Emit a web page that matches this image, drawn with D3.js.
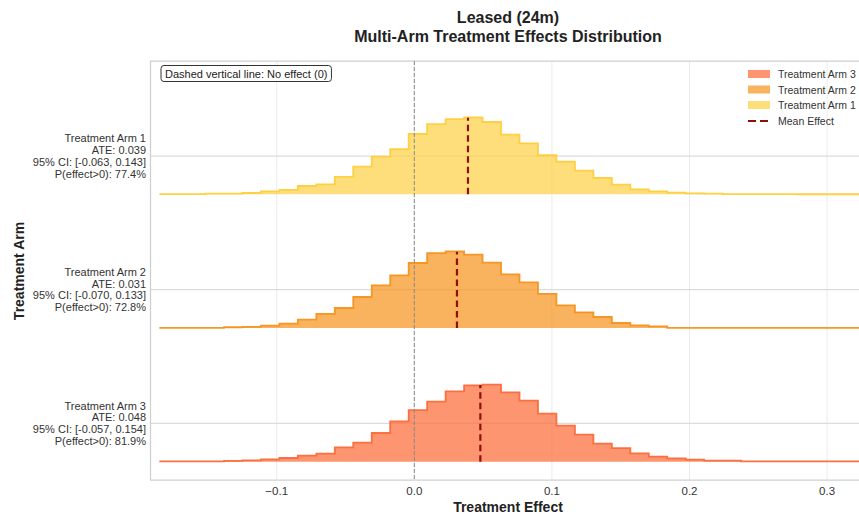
<!DOCTYPE html>
<html>
<head>
<meta charset="utf-8">
<script src="https://cdn.jsdelivr.net/npm/d3@7"></script>
<style>
  html, body { margin: 0; padding: 0; background: #fff; }
  svg { display: block; font-family: "Liberation Sans", Arial, Helvetica, sans-serif; }
</style>
</head>
<body>
<svg id="chart" width="859" height="514"></svg>
<script>
// ---------------- data ----------------
const arms = ["Treatment Arm 1", "Treatment Arm 2", "Treatment Arm 3"];
const armPos = [2, 1, 0];
const ateValues = [0.039, 0.031, 0.048];
const ciLow = [-0.063, -0.070, -0.057];
const ciHigh = [0.143, 0.133, 0.154];
const probPositive = [77.4, 72.8, 81.9];

// histogram grid (bin centres = binStart + k * binWidth)
const binStart = -0.1853;
const binWidth = 0.013423;

const densityArm1 = [0.02,0.02,0.03,0.07,0.07,0.13,0.30,0.43,0.82,0.98,1.71,2.72,3.71,4.46,5.94,6.92,7.41,7.58,7.12,5.87,
                     5.02,3.87,3.21,2.33,1.61,0.95,0.49,0.30,0.16,0.10,0.07,0.03,0.02,0.02,0.02,0.01,0.01,0.01,0.01,0.01];
const densityArm2 = [0.02,0.02,0.02,0.02,0.07,0.10,0.23,0.43,0.82,1.38,1.97,3.05,4.20,5.18,6.40,7.38,7.54,7.22,6.43,5.28,
                     4.49,3.35,2.23,1.54,1.08,0.49,0.26,0.16,0.02,0.02,0.02,0.02,0.02,0.02,0.02,0.02,0.02,0.02,0.02,0.02];
const densityArm3 = [0.02,0.02,0.02,0.02,0.07,0.13,0.23,0.36,0.59,0.79,1.41,1.87,2.82,3.97,5.08,5.90,6.92,7.51,7.58,6.82,
                     6.00,4.72,3.54,2.66,1.77,1.34,0.82,0.49,0.33,0.20,0.10,0.10,0.03,0.03,0.03,0.03,0.03,0.03,0.03,0.03];
const densities = [densityArm1, densityArm2, densityArm3];

const xTicks = [-0.1, 0.0, 0.1, 0.2, 0.3];
const legendLabels = ["Treatment Arm 3", "Treatment Arm 2", "Treatment Arm 1", "Mean Effect"];

// ---------------- styling ----------------
const fillColors = ["#fed041", "#f6921a", "#fc6933"];
const edgeColors = ["#fecd3c", "#f6921e", "#fb6a3a"];
const meanColor = "#8f0f0a";

const svg = d3.select("#chart");
const plot = { left: 150, right: 859, top: 61, bottom: 480 };

const x = d3.scaleLinear().domain([-0.1921, 0.3232]).range([plot.left, plot.right]);
const y = d3.scaleLinear().domain([-0.424, 2.711]).range([plot.bottom, plot.top]);
const baselineOffset = 0.2866;
const ridge = d3.scaleLinear().domain([0, 7.58]).range([0, 0.576]);

svg.append("defs").append("clipPath").attr("id", "clip")
  .append("rect").attr("x", plot.left).attr("y", plot.top)
  .attr("width", plot.right - plot.left).attr("height", plot.bottom - plot.top);

// grid
const grid = svg.append("g");
grid.selectAll("line.vg").data(xTicks).join("line")
  .attr("x1", d => x(d)).attr("x2", d => x(d))
  .attr("y1", plot.top).attr("y2", plot.bottom)
  .attr("stroke", "#ebebeb").attr("stroke-width", 1);
grid.selectAll("line.hg").data(armPos).join("line")
  .attr("x1", plot.left).attr("x2", plot.right)
  .attr("y1", d => y(d)).attr("y2", d => y(d))
  .attr("stroke", "#dcdcdc").attr("stroke-width", 1.3);

// spines
svg.append("line").attr("x1", plot.left + 0.5).attr("x2", plot.left + 0.5).attr("y1", plot.top).attr("y2", plot.bottom)
  .attr("stroke", "#cfcfcf").attr("stroke-width", 1.25);
svg.append("line").attr("x1", plot.left).attr("x2", plot.right).attr("y1", plot.bottom).attr("y2", plot.bottom)
  .attr("stroke", "#cfcfcf").attr("stroke-width", 1.25);
svg.append("line").attr("x1", plot.left).attr("x2", plot.right).attr("y1", plot.top).attr("y2", plot.top)
  .attr("stroke", "#cfcfcf").attr("stroke-width", 1.25);

const body = svg.append("g").attr("clip-path", "url(#clip)");

arms.forEach((arm, i) => {
  const base = armPos[i] - baselineOffset;
  const pts = densities[i].map((d, k) => ({ xv: binStart + k * binWidth, d }));
  const area = d3.area().curve(d3.curveStep)
    .x(p => x(p.xv)).y0(y(base)).y1(p => y(base + ridge(p.d)));
  const line = d3.line().curve(d3.curveStep)
    .x(p => x(p.xv)).y(p => y(base + ridge(p.d)));
  body.append("path").datum(pts).attr("d", area)
    .attr("fill", fillColors[i]).attr("fill-opacity", 0.7);
  body.append("path").datum(pts).attr("d", line)
    .attr("fill", "none").attr("stroke", edgeColors[i]).attr("stroke-width", 1.8).attr("stroke-opacity", 0.95);

  // mean line height: interpolated density at the mean
  const kf = (ateValues[i] - binStart) / binWidth;
  const k0 = Math.floor(kf), t = kf - k0;
  const dm = densities[i][k0] * (1 - t) + densities[i][k0 + 1] * t;
  body.append("line")
    .attr("x1", x(ateValues[i])).attr("x2", x(ateValues[i]))
    .attr("y1", y(base)).attr("y2", y(base + ridge(dm)))
    .attr("stroke", meanColor).attr("stroke-width", 2.2)
    .attr("stroke-dasharray", "6.5,4");
});

// zero line
body.append("line").attr("x1", x(0)).attr("x2", x(0)).attr("y1", plot.top).attr("y2", plot.bottom)
  .attr("stroke", "#8a8a8a").attr("stroke-width", 1).attr("stroke-dasharray", "4,2");

// x axis ticks
const fmt = d => (d < 0 ? "\u2212" : "") + Math.abs(d).toFixed(1);
svg.append("g").selectAll("text").data(xTicks).join("text")
  .attr("x", d => x(d)).attr("y", 495)
  .attr("text-anchor", "middle").attr("font-size", 11.5).attr("fill", "#333")
  .text(fmt);

svg.append("text").attr("x", (plot.left + 866) / 2).attr("y", 512)
  .attr("text-anchor", "middle").attr("font-size", 14).attr("font-weight", "bold").attr("fill", "#222")
  .text("Treatment Effect");

svg.append("text").attr("transform", "translate(24,271) rotate(-90)")
  .attr("text-anchor", "middle").attr("font-size", 14).attr("font-weight", "bold").attr("fill", "#222")
  .text("Treatment Arm");

// y tick labels (multi-line)
arms.forEach((arm, i) => {
  const lines = [
    arm,
    "ATE: " + ateValues[i].toFixed(3),
    "95% CI: [" + ciLow[i].toFixed(3) + ", " + ciHigh[i].toFixed(3) + "]",
    "P(effect>0): " + probPositive[i].toFixed(1) + "%"
  ];
  const cy = y(armPos[i]);
  const t = svg.append("text").attr("text-anchor", "end").attr("font-size", 11).attr("fill", "#333");
  lines.forEach((l, j) => {
    t.append("tspan").attr("x", 146).attr("y", cy + (j - 1.5) * 11.8 + 3.9).text(l);
  });
});

// title
svg.append("text").attr("x", 508).attr("y", 23).attr("text-anchor", "middle")
  .attr("font-size", 16).attr("font-weight", "bold").attr("fill", "#222").text("Leased (24m)");
svg.append("text").attr("x", 508).attr("y", 42).attr("text-anchor", "middle")
  .attr("font-size", 16).attr("font-weight", "bold").attr("fill", "#222").text("Multi-Arm Treatment Effects Distribution");

// annotation box
const ann = svg.append("g");
const annText = ann.append("text").attr("x", 165).attr("y", 77.5).attr("font-size", 11).attr("fill", "#222")
  .text("Dashed vertical line: No effect (0)");
const bb = annText.node().getBBox();
ann.insert("rect", "text").attr("x", bb.x - 4).attr("y", 65.5).attr("width", bb.width + 8).attr("height", 16)
  .attr("rx", 3).attr("fill", "#fff").attr("stroke", "#333").attr("stroke-width", 1);

// legend
const legY = [74, 89.5, 105, 121];
const leg = svg.append("g");
legendLabels.forEach((lab, i) => {
  if (i < 3) {
    const armIdx = 2 - i;
    leg.append("rect").attr("x", 748).attr("y", legY[i] - 4).attr("width", 22).attr("height", 8)
      .attr("fill", fillColors[armIdx]).attr("fill-opacity", 0.7);
  } else {
    leg.append("line").attr("x1", 748).attr("x2", 770).attr("y1", legY[i]).attr("y2", legY[i])
      .attr("stroke", meanColor).attr("stroke-width", 2.2).attr("stroke-dasharray", "8,4");
  }
  leg.append("text").attr("x", 778).attr("y", legY[i] + 4).attr("font-size", 10.5).attr("fill", "#333").text(lab);
});
</script>
</body>
</html>
